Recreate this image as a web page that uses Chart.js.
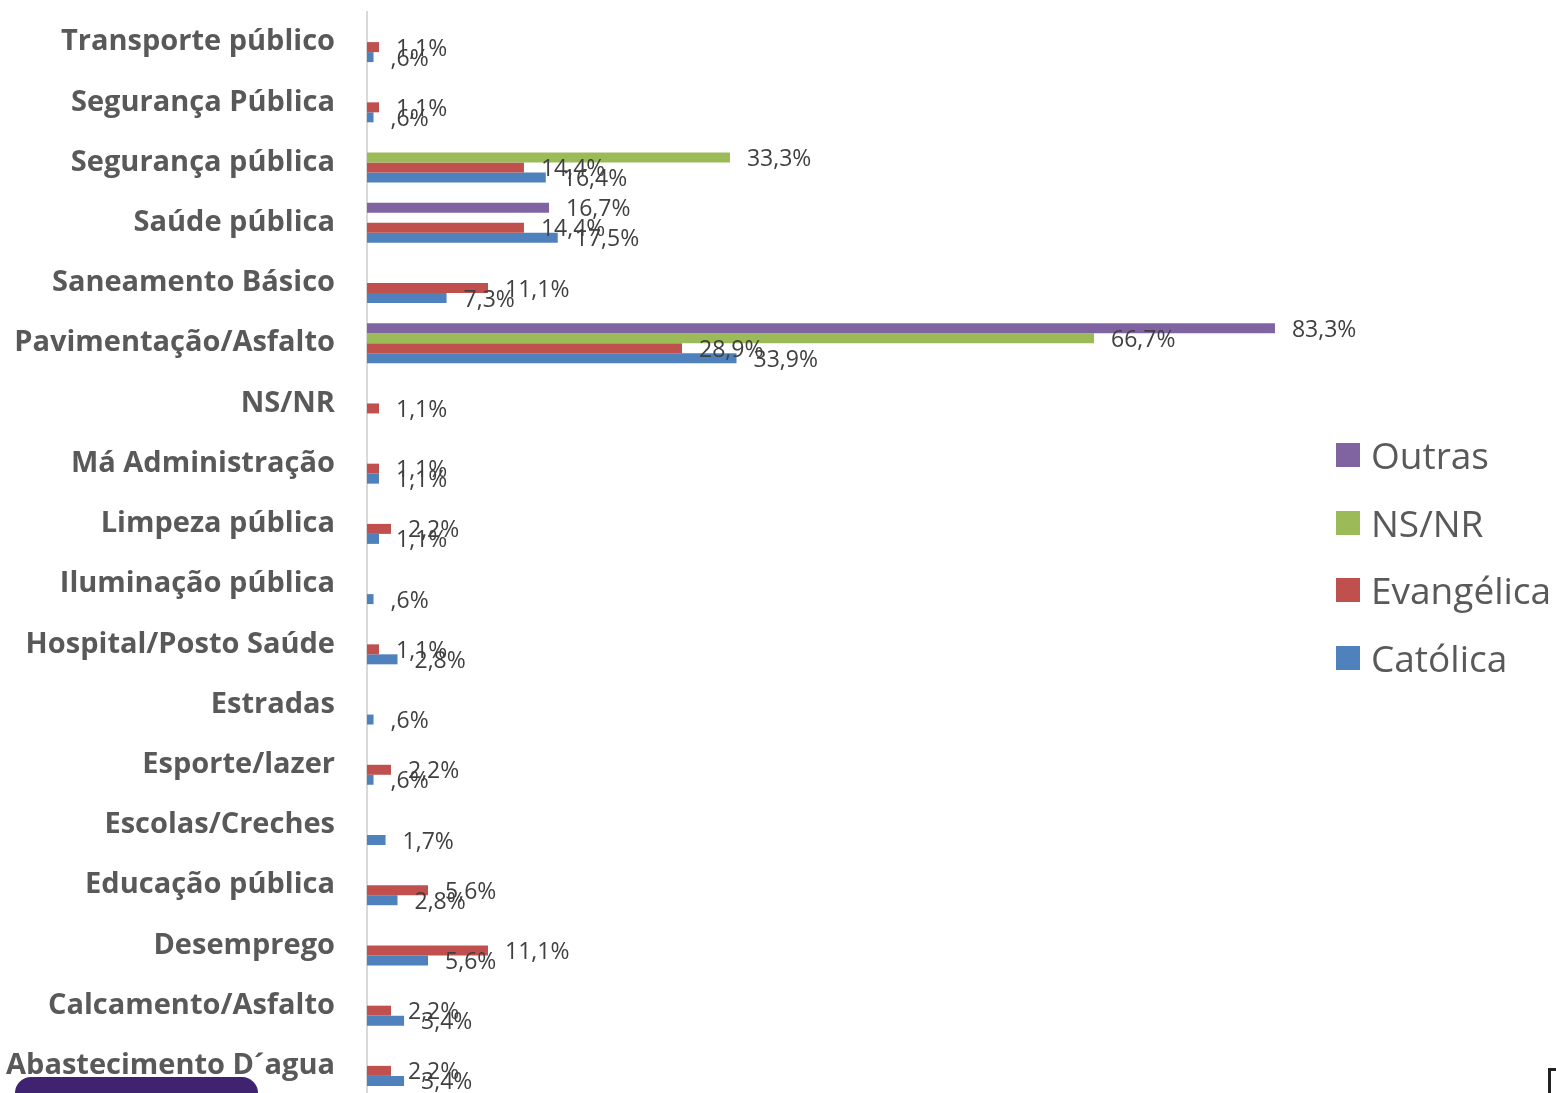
<!DOCTYPE html>
<html>
<head>
<meta charset="utf-8">
<script src="https://cdn.jsdelivr.net/npm/chart.js@4.4.1/dist/chart.umd.min.js"></script>
<style>
  html, body { margin: 0; padding: 0; background: #fff; overflow: hidden; }
  #wrap { position: relative; width: 1556px; height: 1100px; }
  #legend { position: absolute; left: 1336px; top: 430px; font-family: 'Open Sans', sans-serif; font-size: 37px; color: #595959; }
  .lg-row { position: absolute; left: 0; height: 50px; white-space: nowrap; }
  .lg-box { position: absolute; left: 0; top: 13px; width: 24px; height: 24px; }
  .lg-txt { position: absolute; left: 35px; top: 0; line-height: 50px; }
  #blob { position: absolute; left: 15px; top: 1077px; width: 243px; height: 40px; background: #3f2270; border-radius: 16px 16px 0 0; }
  #brk { position: absolute; left: 1548px; top: 1068px; width: 8px; height: 30px; border-left: 3px solid #222; border-top: 3px solid #222; box-sizing: border-box; }
</style>
</head>
<body>
<div id="wrap">
  <canvas id="chart" width="1556" height="1100"></canvas>
  <div id="legend"></div>
  <div id="blob"></div>
  <div id="brk"></div>
</div>
<script>
// ── Data ──────────────────────────────────────────────────────────────────────
const categories = [
  'Transporte público', 'Segurança Pública', 'Segurança pública', 'Saúde pública',
  'Saneamento Básico', 'Pavimentação/Asfalto', 'NS/NR', 'Má Administração',
  'Limpeza pública', 'Iluminação pública', 'Hospital/Posto Saúde', 'Estradas',
  'Esporte/lazer', 'Escolas/Creches', 'Educação pública', 'Desemprego',
  'Calcamento/Asfalto', 'Abastecimento D´agua'
];
const outras     = [null, null, null, 16.7, null, 83.3, null, null, null, null, null, null, null, null, null, null, null, null];
const nsnr       = [null, null, 33.3, null, null, 66.7, null, null, null, null, null, null, null, null, null, null, null, null];
const evangelica = [1.1, 1.1, 14.4, 14.4, 11.1, 28.9, 1.1, 1.1, 2.2, null, 1.1, null, 2.2, null, 5.6, 11.1, 2.2, 2.2];
const catolica   = [0.6, 0.6, 16.4, 17.5, 7.3, 33.9, null, 1.1, 1.1, 0.6, 2.8, 0.6, 0.6, 1.7, 2.8, 5.6, 3.4, 3.4];

const seriesNames  = ['Outras', 'NS/NR', 'Evangélica', 'Católica'];
const seriesColors = ['#8064A2', '#9BBB59', '#C0504D', '#4F81BD'];

// ── Helpers ───────────────────────────────────────────────────────────────────
const fmtPct = v => v.toFixed(1).replace('.', ',').replace(/^0/, '') + '%';

// value labels at the end of each bar
const valueLabels = {
  id: 'valueLabels',
  afterDatasetsDraw(chart) {
    const ctx = chart.ctx;
    ctx.save();
    ctx.font = '23px "Open Sans", sans-serif';
    ctx.fillStyle = '#404040';
    ctx.textAlign = 'left';
    ctx.textBaseline = 'middle';
    chart.data.datasets.forEach((ds, i) => {
      const meta = chart.getDatasetMeta(i);
      meta.data.forEach((bar, j) => {
        const v = ds.data[j];
        if (v === null || v === undefined) return;
        ctx.fillText(fmtPct(v), bar.x + 17, bar.y + 2);
      });
    });
    ctx.restore();
  }
};

// ── Chart ─────────────────────────────────────────────────────────────────────
const dataArrays = [outras, nsnr, evangelica, catolica];

new Chart(document.getElementById('chart'), {
  type: 'bar',
  data: {
    labels: categories,
    datasets: dataArrays.map((d, i) => ({
      label: seriesNames[i],
      data: d,
      backgroundColor: seriesColors[i],
      borderWidth: 0,
      categoryPercentage: 0.664,
      barPercentage: 1.0
    }))
  },
  options: {
    indexAxis: 'y',
    responsive: false,
    animation: false,
    layout: { padding: { top: 12, right: 208, bottom: 4, left: 0 } },
    plugins: {
      legend: { display: false },
      tooltip: { enabled: false }
    },
    scales: {
      x: { display: false, min: 0, max: 90 },
      y: {
        afterFit: s => { s.width = 367; s.paddingTop = 0; s.paddingBottom = 0; },
        grid: { display: false, drawTicks: false },
        border: { display: true, color: '#D9D9D9', width: 2 },
        ticks: {
          color: '#595959',
          padding: 32,
          font: { family: 'Open Sans', size: 29, weight: 'bold' }
        }
      }
    }
  },
  plugins: [valueLabels]
});

// ── Legend ────────────────────────────────────────────────────────────────────
const legendEl = document.getElementById('legend');
seriesNames.forEach((name, i) => {
  const row = document.createElement('div');
  row.className = 'lg-row';
  row.style.top = (i * 67.5) + 'px';
  row.innerHTML = `<div class="lg-box" style="background:${seriesColors[i]}"></div><div class="lg-txt">${name}</div>`;
  legendEl.appendChild(row);
});
</script>
</body>
</html>
